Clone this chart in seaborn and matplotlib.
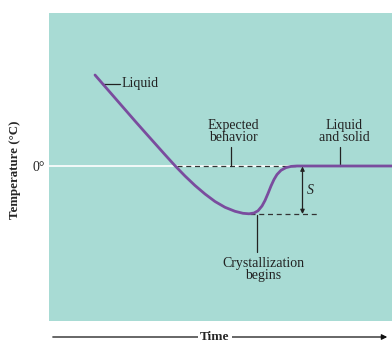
import matplotlib
matplotlib.use("Agg")
import matplotlib.pyplot as plt
import seaborn as sns
import pandas as pd

# Data (arbitrary time / temperature units)
time = [95, 105, 115, 125, 135, 145, 155, 165, 175, 185, 195, 205, 215, 225, 235, 243,
        249, 254, 258, 262, 265, 268, 271, 274, 277, 281, 286, 291, 297, 392]
temperature = [91, 79.5, 68, 56.5, 45, 33.7, 22.5, 11.3, 0.3, -10, -19.5, -28, -35.5, -41.3,
               -45.3, -47.3, -47.8, -47.0, -44.8, -40.0, -34.5, -27.5, -20, -13.5, -8.5, -4.3,
               -1.6, -0.4, 0, 0]
freeze_temp = 0
expected_x = [177, 300]
undercool_min = -48
undercool_x = [250, 318]

sns.set_theme(style="white")
plt.rcParams["font.family"] = ["Liberation Serif", "DejaVu Serif"]

fig = plt.figure(figsize=(3.92, 3.42), dpi=100)
ax = fig.add_axes([49/392, 21/342, 343/392, 308/342])
ax.set_facecolor("#a8dbd4")
for s in ax.spines.values():
    s.set_visible(False)

df = pd.DataFrame({"Time": time, "Temperature": temperature})

# zero line
ax.axhline(freeze_temp, color="white", lw=1.2, zorder=1)
# expected behavior / undercooling dashed lines
ax.plot(expected_x, [freeze_temp, freeze_temp], color="#333333", lw=0.9, ls=(0, (4, 3)), zorder=2)
ax.plot(undercool_x, [undercool_min, undercool_min], color="#333333", lw=0.9, ls=(0, (4, 3)), zorder=2)

sns.lineplot(data=df, x="Time", y="Temperature", ax=ax, color="#7a4c9e", lw=2.0, sort=False, zorder=3)

ax.set_xlim(49, 392)
ax.set_ylim(-155, 153)
ax.set_xticks([])
ax.set_yticks([freeze_temp])
ax.set_yticklabels(["0°"], fontsize=10)
ax.tick_params(axis="y", length=0, pad=3)
ax.set_xlabel("")
ax.set_ylabel("Temperature (°C)", fontsize=9.3, fontweight="bold")
ax.yaxis.set_label_coords(-0.083, 0.49)

fs = 10
tc = "#222222"
# Liquid label
ax.plot([102, 120], [82, 82], color=tc, lw=0.9)
ax.text(122, 83, "Liquid", fontsize=fs, va="center", ha="left", color=tc)
# Expected behavior
ax.text(233, 34.5, "Expected\nbehavior", fontsize=fs, va="center", ha="center", color=tc, linespacing=0.92)
ax.plot([231, 231], [freeze_temp, 19], color=tc, lw=0.9)
# Liquid and solid
ax.text(344, 34.5, "Liquid\nand solid", fontsize=fs, va="center", ha="center", color=tc, linespacing=0.92)
ax.plot([340, 340], [freeze_temp, 19], color=tc, lw=0.9)
# Crystallization begins
ax.plot([257, 257], [-49, -86], color=tc, lw=0.9)
ax.text(263, -103, "Crystallization\nbegins", fontsize=fs, va="center", ha="center", color=tc, linespacing=0.9)
# S arrow
ax.annotate("", xy=(302.5, -0.5), xytext=(302.5, undercool_min),
            arrowprops=dict(arrowstyle="<|-|>", color=tc, lw=0.9, mutation_scale=6, shrinkA=0, shrinkB=0))
ax.text(307, -24, "S", fontsize=fs, style="italic", va="center", ha="left", color=tc)

# Time axis arrow
fig.patches.append(matplotlib.patches.FancyArrowPatch((50/392, 5/342), (390/392, 5/342),
                   transform=fig.transFigure, arrowstyle="-|>", mutation_scale=8, color="#111111", lw=0.9))
fig.text(215/392, 5/342, "Time", fontsize=9.5, fontweight="bold", ha="center", va="center",
         bbox=dict(facecolor="white", edgecolor="none", pad=1.5))

fig.savefig("out.png", dpi=100)
